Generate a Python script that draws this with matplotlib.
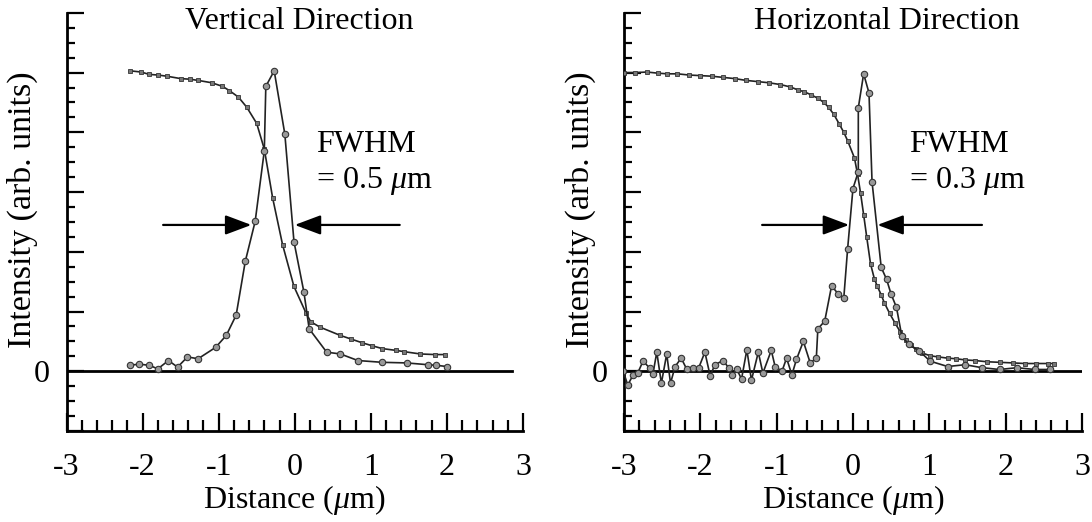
import matplotlib
matplotlib.use("Agg")
import matplotlib.pyplot as plt
from matplotlib.ticker import MultipleLocator, FixedLocator

plt.rcParams["font.family"] = ["Liberation Serif", "DejaVu Serif"]
plt.rcParams["mathtext.fontset"] = "custom"
plt.rcParams["mathtext.rm"] = "Liberation Serif"
plt.rcParams["mathtext.it"] = "Liberation Serif:italic"
plt.rcParams["axes.unicode_minus"] = False

# ---- data: vertical direction ----
v_edge_x = [-2.16, -2.02, -1.91, -1.80, -1.68, -1.50, -1.38, -1.27, -1.09, -0.95,
            -0.86, -0.74, -0.63, -0.50, -0.40, -0.29, -0.16, -0.01, 0.15, 0.21,
            0.33, 0.60, 0.74, 0.88, 1.01, 1.15, 1.33, 1.43, 1.65, 1.84, 1.97]
v_edge_y = [5.03, 5.01, 4.97, 4.96, 4.94, 4.90, 4.89, 4.87, 4.83, 4.77,
            4.70, 4.59, 4.42, 4.15, 3.72, 2.90, 2.12, 1.42, 0.97, 0.83,
            0.74, 0.60, 0.54, 0.48, 0.43, 0.38, 0.35, 0.33, 0.29, 0.28, 0.28]

v_peak_x = [-2.16, -2.05, -1.91, -1.80, -1.66, -1.54, -1.41, -1.27, -1.04, -0.90,
            -0.77, -0.65, -0.52, -0.40, -0.38, -0.27, -0.13, -0.01, 0.12, 0.19,
            0.42, 0.60, 0.83, 1.15, 1.47, 1.75, 1.86, 2.00]
v_peak_y = [0.10, 0.12, 0.10, 0.04, 0.18, 0.07, 0.24, 0.21, 0.40, 0.60,
            0.94, 1.84, 2.51, 3.69, 4.77, 5.03, 3.97, 2.17, 1.33, 0.71,
            0.32, 0.29, 0.18, 0.15, 0.14, 0.11, 0.10, 0.08]

# ---- data: horizontal direction ----
h_edge_x = [-3.00, -2.85, -2.70, -2.55, -2.43, -2.30, -2.15, -2.00, -1.85, -1.70,
            -1.55, -1.40, -1.25, -1.10, -0.95, -0.82, -0.72, -0.64, -0.55, -0.46,
            -0.38, -0.32, -0.25, -0.18, -0.12, -0.07, 0.02, 0.06, 0.10, 0.14,
            0.18, 0.23, 0.28, 0.32, 0.37, 0.41, 0.48, 0.55, 0.62, 0.69,
            0.76, 0.82, 0.90, 1.01, 1.12, 1.24, 1.35, 1.47, 1.60, 1.75,
            1.92, 2.10, 2.25, 2.40, 2.55, 2.63]
h_edge_y = [5.00, 5.00, 5.01, 4.99, 4.98, 4.98, 4.96, 4.95, 4.94, 4.92,
            4.90, 4.87, 4.85, 4.83, 4.80, 4.76, 4.71, 4.68, 4.63, 4.57,
            4.50, 4.42, 4.30, 4.14, 4.00, 3.86, 3.57, 3.30, 2.98, 2.62,
            2.25, 1.80, 1.55, 1.42, 1.28, 1.15, 0.97, 0.81, 0.66, 0.53,
            0.44, 0.37, 0.31, 0.26, 0.24, 0.22, 0.21, 0.19, 0.18, 0.16,
            0.15, 0.14, 0.13, 0.13, 0.13, 0.13]

h_peak_x = [-3.01, -2.95, -2.88, -2.82, -2.75, -2.66, -2.62, -2.57, -2.51, -2.44,
            -2.39, -2.33, -2.25, -2.18, -2.10, -2.02, -1.94, -1.87, -1.81, -1.70,
            -1.63, -1.59, -1.52, -1.46, -1.39, -1.33, -1.24, -1.18, -1.07, -1.02,
            -0.93, -0.87, -0.80, -0.74, -0.65, -0.56, -0.48, -0.46, -0.37, -0.28,
            -0.19, -0.12, -0.07, 0.00, 0.07, 0.07, 0.14, 0.21, 0.25, 0.37,
            0.44, 0.50, 0.57, 0.64, 0.73, 0.87, 1.01, 1.24, 1.47, 1.69,
            1.92, 2.15, 2.38, 2.58]
h_peak_y = [0.00, -0.23, -0.06, -0.03, 0.17, 0.05, -0.04, 0.32, -0.20, 0.29,
            -0.20, 0.08, 0.22, 0.04, 0.06, 0.06, 0.32, -0.08, 0.11, 0.18,
            0.06, -0.06, 0.03, -0.13, 0.36, -0.15, 0.32, -0.03, 0.35, 0.08,
            0.00, 0.22, -0.06, 0.20, 0.50, 0.14, 0.22, 0.71, 0.84, 1.43,
            1.29, 1.23, 2.05, 3.06, 3.34, 4.41, 4.98, 4.66, 3.17, 1.74,
            1.54, 1.29, 1.07, 0.59, 0.45, 0.34, 0.17, 0.08, 0.11, 0.06,
            0.03, 0.06, 0.03, 0.03]

panels = [
    dict(title="Vertical Direction", title_x=0.06,
         edge=(v_edge_x, v_edge_y), peak=(v_peak_x, v_peak_y),
         arrow_l=(-1.73, -0.57), arrow_r=(1.38, 0.0), arrow_y=2.45,
         fwhm_x=0.28, fwhm_label="= 0.5 $\\mu$m", zero_end=0.975),
    dict(title="Horizontal Direction", title_x=0.44,
         edge=(h_edge_x, h_edge_y), peak=(h_peak_x, h_peak_y),
         arrow_l=(-1.19, -0.05), arrow_r=(1.69, 0.32), arrow_y=2.45,
         fwhm_x=0.73, fwhm_label="= 0.3 $\\mu$m", zero_end=1.0),
]

FS = 23
fig = plt.figure(figsize=(10.92, 5.22), dpi=100)
rects = [[0.0609, 0.1743, 0.418, 0.801], [0.5714, 0.1743, 0.4194, 0.801]]

for rect, p in zip(rects, panels):
    ax = fig.add_axes(rect)
    ax.set_xlim(-3, 3)
    ax.set_ylim(-1, 6)

    line_kw = dict(color="#222222", lw=1.2, zorder=3)
    ax.plot(*p["edge"], marker="s", ms=2.5, mfc="#777777", mec="#333333", mew=0.6, **line_kw)
    ax.plot(*p["peak"], marker="o", ms=4.6, mfc="#999999", mec="#333333", mew=0.8, **line_kw)

    ax.axhline(0, xmin=0, xmax=p["zero_end"], color="black", lw=2.0, zorder=2)

    for spine in ("top", "right"):
        ax.spines[spine].set_visible(False)
    for spine in ("left", "bottom"):
        ax.spines[spine].set_linewidth(2.0)

    ax.xaxis.set_major_locator(MultipleLocator(1))
    ax.xaxis.set_minor_locator(MultipleLocator(0.2))
    ax.yaxis.set_major_locator(FixedLocator([-1, 0, 1, 2, 3, 4, 5, 6]))
    ax.yaxis.set_minor_locator(MultipleLocator(0.25))
    ax.set_yticklabels(["", "0", "", "", "", "", "", ""])
    ax.tick_params(which="both", direction="in", labelsize=FS, width=1.6)
    ax.tick_params(axis="x", which="major", length=13, pad=16)
    ax.tick_params(axis="x", which="minor", length=8)
    ax.tick_params(axis="y", which="major", length=12, pad=12)
    ax.tick_params(axis="y", which="minor", length=6)

    ax.set_xlabel("Distance ($\\mu$m)", fontsize=FS)
    ax.xaxis.set_label_coords(0.5, -0.125)
    ax.set_ylabel("Intensity (arb. units)", fontsize=24.5)
    ax.yaxis.set_label_coords(-0.062, 0.53)

    ax.text(p["title_x"], 5.85, p["title"], fontsize=FS, ha="center", va="center")
    ax.text(p["fwhm_x"], 3.80, "FWHM", fontsize=FS, ha="left", va="center")
    ax.text(p["fwhm_x"], 3.19, p["fwhm_label"], fontsize=FS, ha="left", va="center")

    ay = p["arrow_y"]
    for x0, x1 in (p["arrow_l"], p["arrow_r"]):
        ax.annotate("", xy=(x1, ay), xytext=(x0, ay),
                    arrowprops=dict(arrowstyle="-|>,head_length=1.6,head_width=0.6",
                                    color="black", lw=1.6, shrinkA=0, shrinkB=0),
                    zorder=4)

fig.savefig("out.png", dpi=100)
